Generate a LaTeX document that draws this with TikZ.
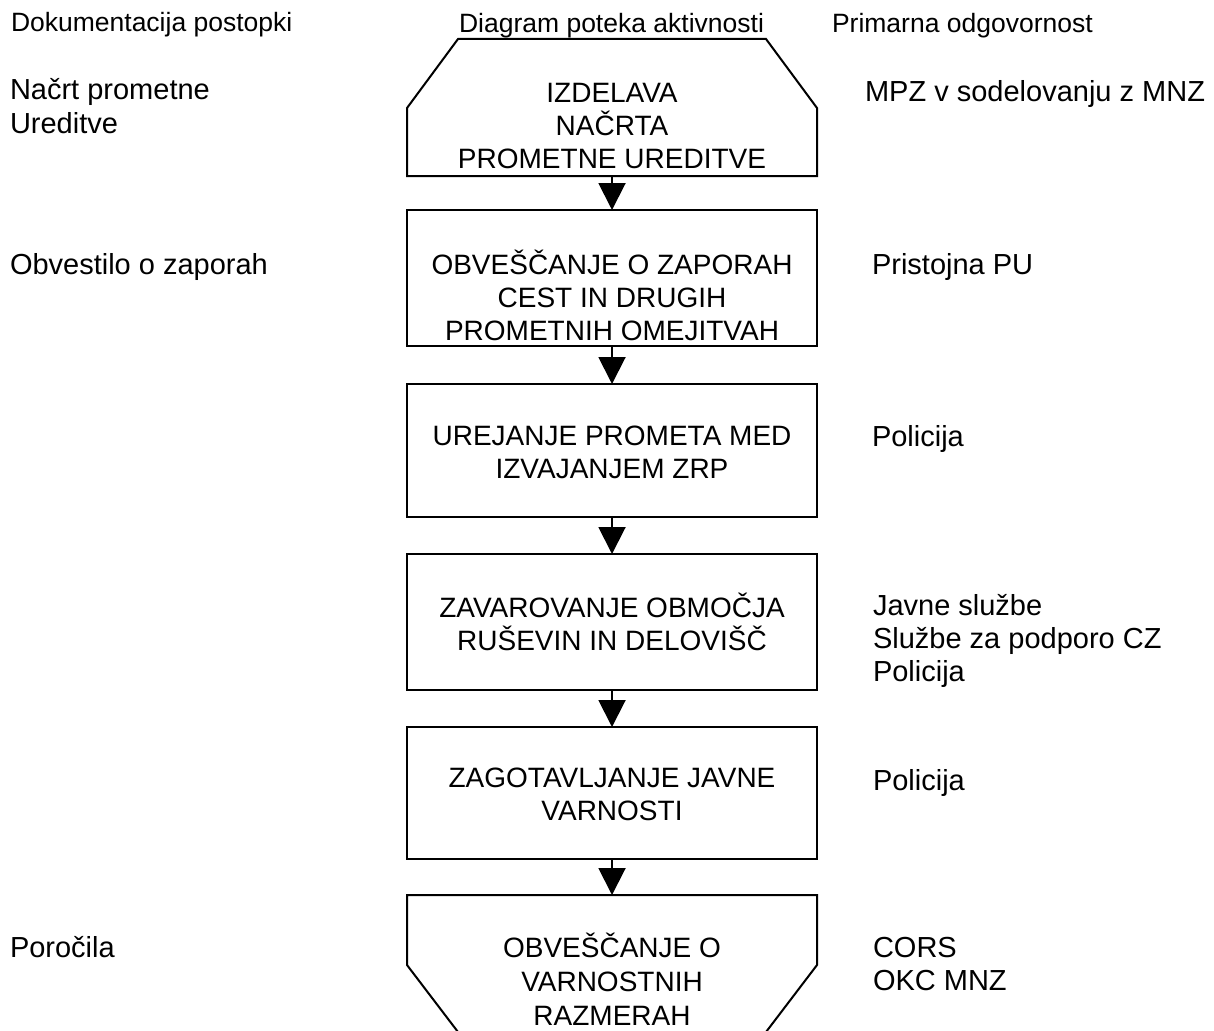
\documentclass[tikz,border=0pt]{standalone}
\usepackage{fontspec}
\setmainfont{Liberation Sans}
\usetikzlibrary{arrows.meta}
\begin{document}
\begin{tikzpicture}[x=1pt,y=-1pt,
  every node/.style={font=\fontsize{28}{33}\selectfont, inner sep=0pt, outer sep=0pt},
  stepbox/.style={draw, line width=2pt, rectangle, minimum width=410pt},
  shapebox/.style={rectangle, minimum width=410pt},
  outline/.style={line width=2pt, line join=miter},
  flow/.style={line width=2pt, -{Triangle[width=27pt,length=27pt]}},
  lbl/.style={anchor=base west, font=\fontsize{29}{33}\selectfont},
  head/.style={font=\fontsize{26.5}{30}\selectfont},
  boxtext/.style={align=center, anchor=base}
]
\useasboundingbox (0,0) rectangle (1214,1030);
% headers
\node[head, anchor=base west] (h1) at (11,32) {Dokumentacija postopki};
\node[head, anchor=base] (h2) at (611.5,33) {Diagram poteka aktivnosti};
\node[head, anchor=base west] (h3) at (832,33) {Primarna odgovornost};
% boxes
\node[shapebox, minimum height=137pt] (b1) at (612,107.5) {};
\draw[outline] ([xshift=51pt]b1.north west) -- ([xshift=-51pt]b1.north east)
  -- ([yshift=-69pt]b1.north east) -- (b1.south east) -- (b1.south west)
  -- ([yshift=-69pt]b1.north west) -- cycle;
\node[stepbox, minimum height=136pt] (b2) at (612,278) {};
\node[stepbox, minimum height=133pt] (b3) at (612,450.5) {};
\node[stepbox, minimum height=136pt] (b4) at (612,622) {};
\node[stepbox, minimum height=132pt] (b5) at (612,793) {};
\node[shapebox, minimum height=137pt] (b6) at (612,963.5) {};
\draw[outline] (b6.north west) -- (b6.north east)
  -- ([yshift=67pt]b6.south east) -- ([xshift=-51pt]b6.south east)
  -- ([xshift=51pt]b6.south west) -- ([yshift=67pt]b6.south west) -- cycle;
% box texts (anchor = baseline of last line)
\node[boxtext] (t1) at (612,168) {IZDELAVA\\NAČRTA\\PROMETNE UREDITVE};
\node[boxtext] (t2) at (612,340) {OBVEŠČANJE O ZAPORAH\\CEST IN DRUGIH\\PROMETNIH OMEJITVAH};
\node[boxtext] (t3) at (612,478) {UREJANJE PROMETA MED\\IZVAJANJEM ZRP};
\node[boxtext] (t4) at (612,650) {ZAVAROVANJE OBMOČJA\\RUŠEVIN IN DELOVIŠČ};
\node[boxtext] (t5) at (612,820) {ZAGOTAVLJANJE JAVNE\\VARNOSTI};
\node[boxtext, font=\fontsize{28}{34}\selectfont] (t6) at (612,1025) {OBVEŠČANJE O\\VARNOSTNIH\\RAZMERAH};
% arrows
\draw[flow] (b1.south) -- (b2.north);
\draw[flow] (b2.south) -- (b3.north);
\draw[flow] (b3.south) -- (b4.north);
\draw[flow] (b4.south) -- (b5.north);
\draw[flow] (b5.south) -- (b6.north);
% left column
\node[lbl, align=left] (l1) at (10,133) {Načrt prometne\\Ureditve};
\node[lbl] (l2) at (10,274) {Obvestilo o zaporah};
\node[lbl] (l3) at (10,957) {Poročila};
% right column
\node[lbl] (r1) at (865,102) {MPZ v sodelovanju z MNZ};
\node[lbl] (r2) at (872,274) {Pristojna PU};
\node[lbl] (r3) at (872,446) {Policija};
\node[lbl, align=left] (r4) at (873,681) {Javne službe\\Službe za podporo CZ\\Policija};
\node[lbl] (r5) at (873,790) {Policija};
\node[lbl, align=left] (r6) at (873,990) {CORS\\OKC MNZ};
\end{tikzpicture}
\end{document}
